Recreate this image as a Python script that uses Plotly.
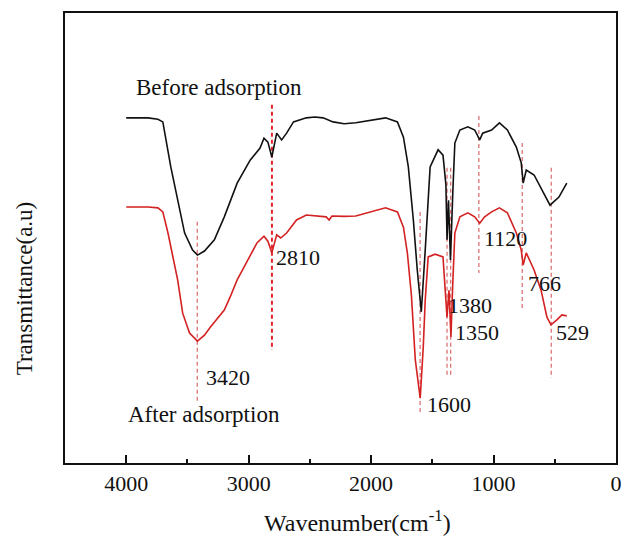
import plotly.graph_objects as go

# Wavenumber (cm^-1) and transmittance (a.u.)
wn_before = [4000, 3822, 3741, 3701, 3636, 3580, 3523, 3458, 3418, 3361, 3280, 3199, 3094, 2988,
             2907, 2875, 2843, 2811, 2771, 2731, 2690, 2634, 2529, 2460, 2392, 2311, 2220, 2125,
             2000, 1882, 1785, 1736, 1696, 1655, 1623, 1590, 1558, 1518, 1453, 1413, 1389, 1380,
             1368, 1352, 1332, 1316, 1275, 1210, 1154, 1113, 1089, 1016, 952, 887, 814, 774, 758,
             733, 669, 612, 539, 466, 402]
t_before = [76.7, 76.7, 76.4, 75.8, 65.8, 58.4, 51.1, 47.3, 46.2, 47.1, 49.6, 54.7, 62.2, 67.3,
            70.0, 72.2, 71.3, 68.0, 73.3, 71.8, 73.3, 75.8, 76.7, 76.9, 76.7, 75.8, 75.4, 75.6,
            76.2, 76.7, 75.8, 72.4, 65.8, 54.0, 42.9, 33.6, 47.3, 65.8, 69.6, 68.4, 61.8, 49.6,
            58.4, 45.1, 60.7, 71.1, 74.0, 74.7, 74.0, 71.8, 73.3, 74.0, 75.6, 74.0, 70.2, 66.7, 62.2,
            65.1, 64.0, 61.1, 57.3, 59.1, 62.2]

wn_after = [4000, 3822, 3741, 3701, 3659, 3619, 3580, 3539, 3483, 3418, 3361, 3312, 3199, 3151,
            3094, 3037, 2932, 2875, 2843, 2811, 2771, 2738, 2690, 2609, 2529, 2367, 2343, 2319,
            2220, 2125, 2000, 1882, 1785, 1736, 1704, 1671, 1639, 1615, 1599, 1574, 1558, 1534,
            1477, 1413, 1397, 1380, 1364, 1348, 1332, 1316, 1275, 1210, 1154, 1113, 1073, 1016,
            952, 887, 814, 774, 758, 733, 669, 612, 564, 531, 483, 442, 402]
t_after = [56.9, 56.9, 56.7, 55.8, 51.1, 46.2, 40.7, 33.3, 28.9, 27.1, 28.4, 30.2, 34.0, 36.9,
           40.7, 43.6, 48.9, 50.4, 49.3, 46.7, 50.7, 50.0, 51.1, 54.0, 55.1, 54.7, 54.0, 54.9,
           54.8, 54.9, 55.9, 56.7, 55.8, 52.4, 46.7, 37.3, 22.9, 17.3, 14.4, 25.8, 36.2, 45.8,
           46.4, 45.8, 40.0, 32.4, 38.4, 28.0, 40.7, 51.1, 54.7, 55.6, 54.7, 53.3, 54.7, 55.8,
           56.7, 55.6, 51.1, 47.3, 44.0, 46.7, 42.9, 38.4, 32.4, 30.7, 31.8, 32.9, 32.7]

# Marked peaks: position, dashed-guide extent (a.u.)
peak_wn = [3420, 2810, 1600, 1380, 1350, 1120, 766, 529]
peak_top = [53.6, 79.6, 55.8, 65.6, 65.6, 77.1, 71.1, 65.6]
peak_bottom = [13.6, 25.1, 11.3, 19.6, 19.6, 42.2, 34.4, 18.9]

# Peak labels: text, anchor wavenumber, anchor transmittance
label_text = ["3420", "2810", "1600", "1380", "1350", "1120", "766", "529"]
label_wn = [3361, 2795, 1558, 1388, 1332, 1097, 733, 507]
label_t = [18.9, 45.6, 12.9, 34.9, 28.9, 50.0, 40.0, 29.1]

tick_vals = [4000, 3000, 2000, 1000, 0]
tick_text = ["4000", "3000", "2000", "1000", "0"]

FONT = "Liberation Serif"
INK = "#111111"

fig = go.Figure()

for i, (w, a, b) in enumerate(zip(peak_wn, peak_top, peak_bottom)):
    strong = (w == 2810)
    fig.add_trace(go.Scatter(x=[w, w], y=[a, b], mode="lines",
                             line=dict(color="#e3262b" if strong else "#d9676b",
                                       width=2.0 if strong else 1.2, dash="4px,3px"),
                             hoverinfo="skip", showlegend=False))

fig.add_trace(go.Scatter(x=wn_before, y=t_before, mode="lines",
                         line=dict(color=INK, width=1.6), showlegend=False))
fig.add_trace(go.Scatter(x=wn_after, y=t_after, mode="lines",
                         line=dict(color="#d42121", width=1.6), showlegend=False))

for t, w, v in zip(label_text, label_wn, label_t):
    fig.add_annotation(x=w, y=v, text=t, showarrow=False, xanchor="left", yanchor="middle",
                       font=dict(family=FONT, size=22, color=INK))

fig.add_annotation(x=3935, y=83.5, text="Before adsorption", showarrow=False,
                   xanchor="left", yanchor="middle", font=dict(family=FONT, size=23, color=INK))
fig.add_annotation(x=4000, y=10.7, text="After adsorption", showarrow=False,
                   xanchor="left", yanchor="middle", font=dict(family=FONT, size=23, color=INK))

fig.add_annotation(xref="paper", yref="paper", x=-0.072, y=0.389, text="Transmittance(a.u)",
                   textangle=-90, showarrow=False, xanchor="center", yanchor="middle",
                   font=dict(family=FONT, size=23, color=INK))
fig.add_annotation(xref="paper", yref="paper", x=0.53, y=-0.128, text="Wavenumber(cm<sup>-1</sup>)",
                   showarrow=False, xanchor="center", yanchor="middle",
                   font=dict(family=FONT, size=24, color=INK))

fig.update_layout(
    width=628, height=541,
    margin=dict(l=65, r=6, t=13, b=78),
    paper_bgcolor="white", plot_bgcolor="white",
    xaxis=dict(range=[4500, 0], tickvals=tick_vals, ticktext=tick_text,
               ticks="inside", ticklen=8, tickwidth=1.5, tickcolor=INK,
               minor=dict(tickvals=[3500, 2500, 1500, 500], ticks="inside", ticklen=4,
                          tickwidth=1.5, tickcolor=INK),
               showline=True, linecolor=INK, linewidth=2, mirror=True,
               showgrid=False, zeroline=False,
               tickfont=dict(family=FONT, size=22, color=INK)),
    yaxis=dict(range=[0, 100], showticklabels=False, ticks="", showline=True,
               linecolor=INK, linewidth=2, mirror=True, showgrid=False, zeroline=False),
)

fig.write_html("out.html")
